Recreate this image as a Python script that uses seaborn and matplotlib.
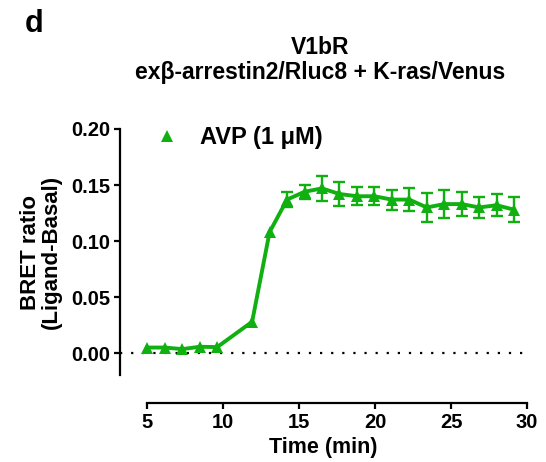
import matplotlib
matplotlib.use("Agg")
import matplotlib.pyplot as plt
import seaborn as sns
import pandas as pd

nan = float("nan")

# BRET kinetics: V1bR, exβ-arrestin2/Rluc8 + K-ras/Venus, AVP (1 µM)
time_min = [5.0, 6.15, 7.3, 8.45, 9.6,
            11.9, 13.05, 14.2, 15.35, 16.5, 17.65, 18.8, 19.95, 21.1,
            22.25, 23.4, 24.55, 25.7, 26.85, 28.0, 29.15]
bret = [0.005, 0.005, 0.0036, 0.0057, 0.0054,
        0.028, 0.108, 0.137, 0.144, 0.147, 0.142, 0.140, 0.140, 0.137,
        0.137, 0.130, 0.133, 0.133, 0.130, 0.132, 0.128]
# SEM; NaN where the bar is shorter than the symbol and not drawn
sem = [nan, nan, nan, nan, nan,
       nan, nan, 0.007, 0.0064, 0.011, 0.0105, 0.008, 0.008, 0.009,
       0.010, 0.0128, 0.0128, 0.011, 0.009, 0.010, 0.011]
series_label = "AVP (1 \u03bcM)"
x_ticks = [5, 10, 15, 20, 25, 30]
y_ticks = [0.00, 0.05, 0.10, 0.15, 0.20]

df = pd.DataFrame({"Time": time_min, "BRET": bret, "SEM": sem})
bars = df.dropna(subset=["SEM"])

sns.set_style("ticks")
plt.rcParams["font.family"] = ["Liberation Sans", "DejaVu Sans"]
plt.rcParams["font.weight"] = "bold"
plt.rcParams["text.color"] = "black"
plt.rcParams["axes.labelcolor"] = "black"

green = "#10b010"

fig = plt.figure(figsize=(5.46, 4.62), dpi=100)
ax = fig.add_axes([120 / 546, 1 - 375 / 462, (527 - 120) / 546, (375 - 129) / 462])

# baseline
ax.axhline(0, xmin=0.0, xmax=1.0, color="black",
           linestyle=(0, (1, 4)), linewidth=1.6, zorder=1)

ax.errorbar(bars["Time"], bars["BRET"], yerr=bars["SEM"], fmt="none",
            ecolor=green, elinewidth=1.7, capsize=4.2, capthick=1.7, zorder=2)
sns.lineplot(data=df, x="Time", y="BRET", ax=ax, color=green, linewidth=2.8,
             marker="^", markersize=9, markeredgewidth=0,
             label=series_label, zorder=3)

ax.set_xlim(3.2, 30.0)
ax.set_ylim(-0.0195, 0.20)
ax.set_xticks(x_ticks)
ax.set_yticks(y_ticks)
ax.set_yticklabels([f"{v:.2f}" for v in y_ticks])
ax.spines["top"].set_visible(False)
ax.spines["right"].set_visible(False)
ax.spines["bottom"].set_position(("outward", 20))
ax.spines["bottom"].set_bounds(5, 30)
for sp in ("left", "bottom"):
    ax.spines[sp].set_linewidth(1.6)
    ax.spines[sp].set_color("black")
ax.tick_params(axis="both", width=1.6, length=4, pad=3, labelsize=14.5,
               colors="black")
for lbl in ax.get_xticklabels() + ax.get_yticklabels():
    lbl.set_fontweight("bold")

ax.set_xlabel("Time (min)", fontsize=15.5, fontweight="bold", labelpad=4)
ax.set_ylabel("BRET ratio\n(Ligand-Basal)", fontsize=16, fontweight="bold",
              labelpad=7, linespacing=0.95)

leg = ax.legend(loc="upper left", bbox_to_anchor=(0.063, 1.05), frameon=False,
                prop={"size": 17, "weight": "bold"}, handlelength=1.0,
                handletextpad=0.9, borderaxespad=0)
for h in leg.legend_handles:
    h.set_linestyle("none")

fig.text(320 / 546, 1 - 48 / 462, "V1bR", ha="center", va="center",
         fontsize=16.5, fontweight="bold")
fig.text(320 / 546, 1 - 73 / 462, "ex\u03b2-arrestin2/Rluc8 + K-ras/Venus",
         ha="center", va="center", fontsize=16.5, fontweight="bold")
fig.text(34 / 546, 1 - 24 / 462, "d", ha="center", va="center",
         fontsize=22, fontweight="bold")

fig.savefig("out.png", dpi=100)
